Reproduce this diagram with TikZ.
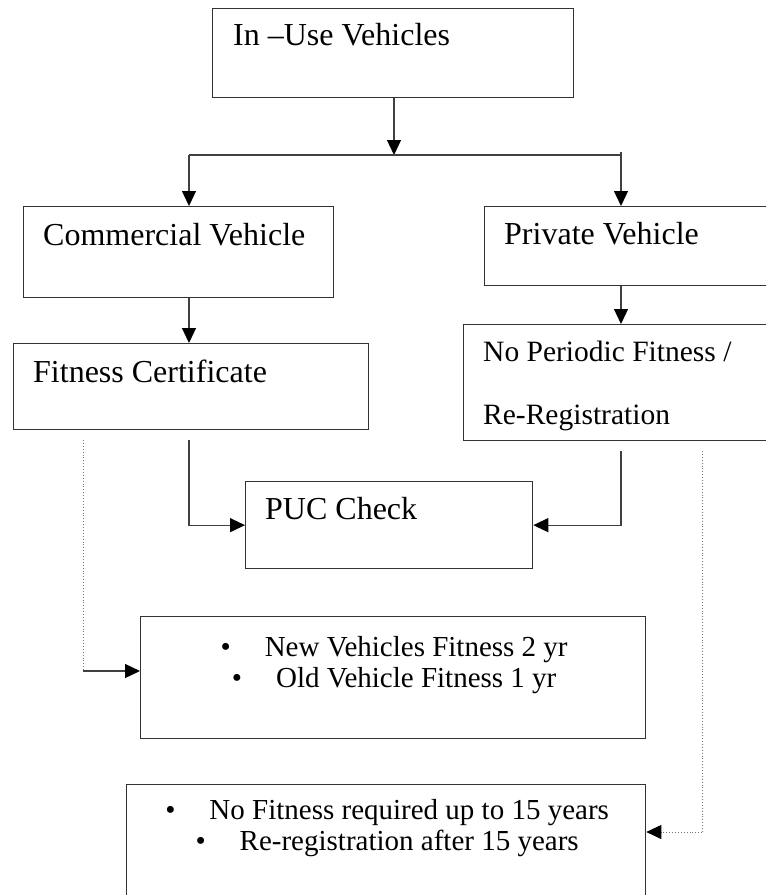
\documentclass[tikz,border=0pt]{standalone}
\usepackage{fontspec}
\setmainfont{Liberation Serif}
\usetikzlibrary{arrows.meta}

\tikzset{
    box/.style={draw=black!80, line width=1.3pt, rectangle, inner sep=0pt, anchor=north west},
    txt/.style={inner sep=0pt, anchor=base west, align=left, font=\fontsize{32}{63}\selectfont},
    bullets/.style={inner sep=0pt, anchor=base, align=center, font=\fontsize{29}{31}\selectfont},
    link/.style={draw=black!75, line width=1.3pt},
    tip/.style={-{Triangle[length=15pt,width=14pt,black]}},
    dotline/.style={draw=black!55, line width=0.9pt, dotted},
}
\newcommand{\itemdot}{\textbullet\hspace{34pt}}

\begin{document}
\begin{tikzpicture}[x=1pt,y=-1pt]
    \useasboundingbox (0,0) rectangle (766,895);
    \clip (0,0) rectangle (766,895); % boxes on the right and bottom run off the page

    % the boxes
    \node[box, minimum width=361pt, minimum height=89pt]  (InUse)      at (212,8)   {};
    \node[box, minimum width=310pt, minimum height=91pt]  (Commercial) at (23,206)  {};
    \node[box, minimum width=300pt, minimum height=79pt]  (Private)    at (484,206) {};
    \node[box, minimum width=355pt, minimum height=86pt]  (Fitness)    at (13,343)  {};
    \node[box, minimum width=320pt, minimum height=116pt] (NoPeriodic) at (463,324) {};
    \node[box, minimum width=287pt, minimum height=87pt]  (PUC)        at (245,481) {};
    \node[box, minimum width=505pt, minimum height=122pt] (NewFit)     at (140,616) {};
    \node[box, minimum width=519pt, minimum height=130pt] (NoFit)      at (126,784) {};

    % the texts, set in the top part of each box
    % (base of a two-line node is its last line)
    \node[txt] (InUseText)      at ([shift={(21,37)}]InUse.north west)      {In --Use Vehicles};
    \node[txt] (CommercialText) at ([shift={(20,39)}]Commercial.north west) {Commercial Vehicle};
    \node[txt] (PrivateText)    at ([shift={(20,38)}]Private.north west)    {Private Vehicle};
    \node[txt] (FitnessText)    at ([shift={(20,39)}]Fitness.north west)    {Fitness Certificate};
    \node[txt, font=\fontsize{29.5}{63}\selectfont] (NoPeriodicText)
        at ([shift={(20,100)}]NoPeriodic.north west) {No Periodic Fitness /\\Re-Registration};
    \node[txt] (PUCText)        at ([shift={(20,38)}]PUC.north west)        {PUC Check};
    \node[bullets] (NewFitText) at ([shift={(1,71)}]NewFit.north)
        {\itemdot New Vehicles Fitness 2 yr\\\itemdot Old Vehicle Fitness 1 yr};
    \node[bullets] (NoFitText)  at ([shift={(1,66)}]NoFit.north)
        {\itemdot No Fitness required up to 15 years\\\itemdot Re-registration after 15 years};

    % branch points of the connectors
    \coordinate (Split)      at (394,155);
    \coordinate (BranchL)    at (189,155);
    \coordinate (BranchR)    at (621,155);
    \coordinate (BranchRTop) at (621,152);
    \coordinate (FitOut)     at (189,440);
    \coordinate (NoPerOut)   at (621,451);
    \coordinate (FitDot)     at (83,440);
    \coordinate (FitBend)    at (83,671);
    \coordinate (NoPerDot)   at (702,451);
    \coordinate (NoPerBend)  at (702,832);

    \draw[link, tip] (InUse.south -| Split) -- (Split);
    \draw[link] (BranchL) -- (BranchR);
    \draw[link, tip] (BranchL) -- (BranchL |- Commercial.north);
    \draw[link, tip] (BranchRTop) -- (BranchR |- Private.north);
    \draw[link, tip] (Commercial.south -| BranchL) -- (Fitness.north -| BranchL);
    \draw[link, tip] (Private.south -| BranchR) -- (NoPeriodic.north -| BranchR);
    \draw[link, tip] (FitOut) |- (PUC.west);
    \draw[link, tip] (NoPerOut) |- (PUC.east);
    \draw[dotline] (FitDot) -- (FitBend);% dotted down, solid across
    \draw[link, tip] (FitBend) -- (FitBend -| NewFit.west);
    \draw[dotline] (NoPerDot) -- (NoPerBend);
    \draw[dotline, tip] (NoPerBend) -- (NoPerBend -| NoFit.east);
\end{tikzpicture}
\end{document}
